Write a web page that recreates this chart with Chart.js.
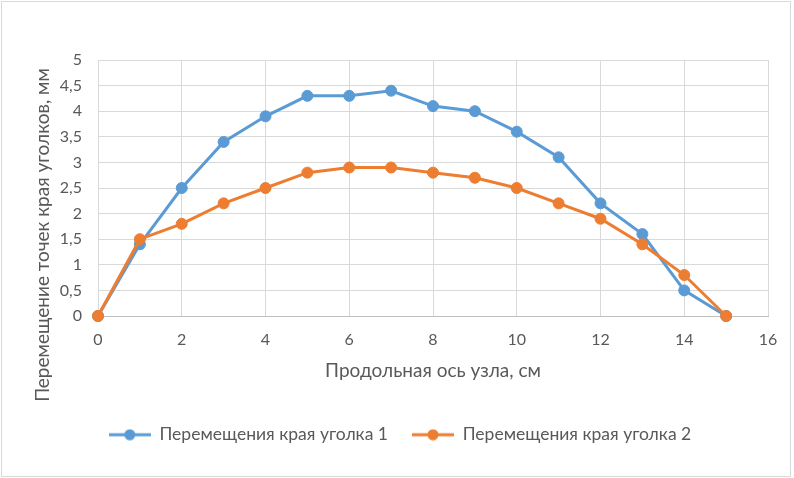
<!DOCTYPE html>
<html>
<head>
<meta charset="utf-8">
<script src="https://cdn.jsdelivr.net/npm/chart.js@4/dist/chart.umd.min.js"></script>
<style>
  html, body { margin: 0; padding: 0; background: #fff; }
  #wrap { position: relative; width: 794px; height: 478px; }
  #frame { position: absolute; left: 1px; top: 1px; width: 788px; height: 474px; border: 1px solid #d9d9d9; pointer-events: none; }
  canvas { position: absolute; left: 0; top: 0; }
</style>
</head>
<body>
<div id="wrap">
  <canvas id="c" width="794" height="478"></canvas>
  <div id="frame"></div>
</div>
<script>
const xValues = [0, 1, 2, 3, 4, 5, 6, 7, 8, 9, 10, 11, 12, 13, 14, 15];
const series1 = [0, 1.4, 2.5, 3.4, 3.9, 4.3, 4.3, 4.4, 4.1, 4.0, 3.6, 3.1, 2.2, 1.6, 0.5, 0];
const series2 = [0, 1.5, 1.8, 2.2, 2.5, 2.8, 2.9, 2.9, 2.8, 2.7, 2.5, 2.2, 1.9, 1.4, 0.8, 0];
const seriesNames = ['Перемещения края уголка 1', 'Перемещения края уголка 2'];
const seriesColors = ['#5B9BD5', '#ED7D31'];
const xTitle = 'Продольная ось узла, см';
const yTitle = 'Перемещение точек края уголков, мм';

const FONT = 'Lato, "Open Sans", sans-serif';
const TXT = '#595959';

function legendIcon(color) {
  const c = document.createElement('canvas');
  c.width = 42; c.height = 12;
  const g = c.getContext('2d');
  g.strokeStyle = color; g.lineWidth = 3;
  g.beginPath(); g.moveTo(0, 6); g.lineTo(42, 6); g.stroke();
  g.fillStyle = color;
  g.beginPath(); g.arc(21, 6, 5.5, 0, Math.PI * 2); g.fill();
  return c;
}
const icons = seriesColors.map(legendIcon);

const yTitlePlugin = {
  id: 'yTitle',
  afterDraw(chart) {
    const ctx = chart.ctx;
    ctx.save();
    ctx.translate(43, 235);
    ctx.rotate(-Math.PI / 2);
    ctx.font = '19px ' + FONT;
    ctx.fillStyle = TXT;
    ctx.textAlign = 'center';
    ctx.textBaseline = 'middle';
    ctx.fillText(yTitle, 0, 0);
    ctx.restore();
  }
};

const datasets = [series1, series2].map((s, i) => ({
  label: seriesNames[i],
  data: s.map((v, k) => ({ x: xValues[k], y: v })),
  borderColor: seriesColors[i],
  backgroundColor: seriesColors[i],
  borderWidth: 3,
  pointRadius: 5.5,
  pointBorderWidth: 1,
  pointBackgroundColor: seriesColors[i],
  pointBorderColor: seriesColors[i],
  tension: 0,
  clip: false,
  order: i === 0 ? 2 : 1
}));

new Chart(document.getElementById('c'), {
  type: 'line',
  data: { datasets },
  plugins: [yTitlePlugin],
  options: {
    responsive: false,
    animation: false,
    devicePixelRatio: 1,
    layout: { padding: { left: 32, top: 60, right: 26, bottom: 24.5 } },
    plugins: {
      tooltip: { enabled: false },
      legend: {
        position: 'bottom',
        labels: {
          usePointStyle: true,
          pointStyleWidth: 42,
          padding: 24,
          color: TXT,
          font: { family: FONT, size: 17.5 },
          generateLabels(chart) {
            return chart.data.datasets.map((d, i) => ({
              text: d.label,
              pointStyle: icons[i],
              fillStyle: d.borderColor,
              strokeStyle: d.borderColor,
              lineWidth: 0,
              fontColor: TXT,
              hidden: false,
              datasetIndex: i
            }));
          }
        }
      }
    },
    scales: {
      x: {
        type: 'linear',
        min: 0, max: 16,
        afterFit(scale) { scale.height = 86; },
        ticks: { stepSize: 2, color: TXT, font: { family: FONT, size: 16 }, padding: 14, maxRotation: 0 },
        grid: { color: '#d9d9d9', drawTicks: false },
        border: { color: '#bfbfbf', width: 1 },
        title: { display: true, text: xTitle, color: TXT, font: { family: FONT, size: 19 }, padding: { top: 0, bottom: 20 } }
      },
      y: {
        min: 0, max: 5,
        afterFit(scale) { scale.width = 66; },
        ticks: {
          stepSize: 0.5, color: TXT, font: { family: FONT, size: 16 }, padding: 16,
          callback: v => String(v).replace('.', ',')
        },
        grid: { color: '#d9d9d9', drawTicks: false },
        border: { color: '#d9d9d9' }
      }
    }
  }
});
</script>
</body>
</html>
